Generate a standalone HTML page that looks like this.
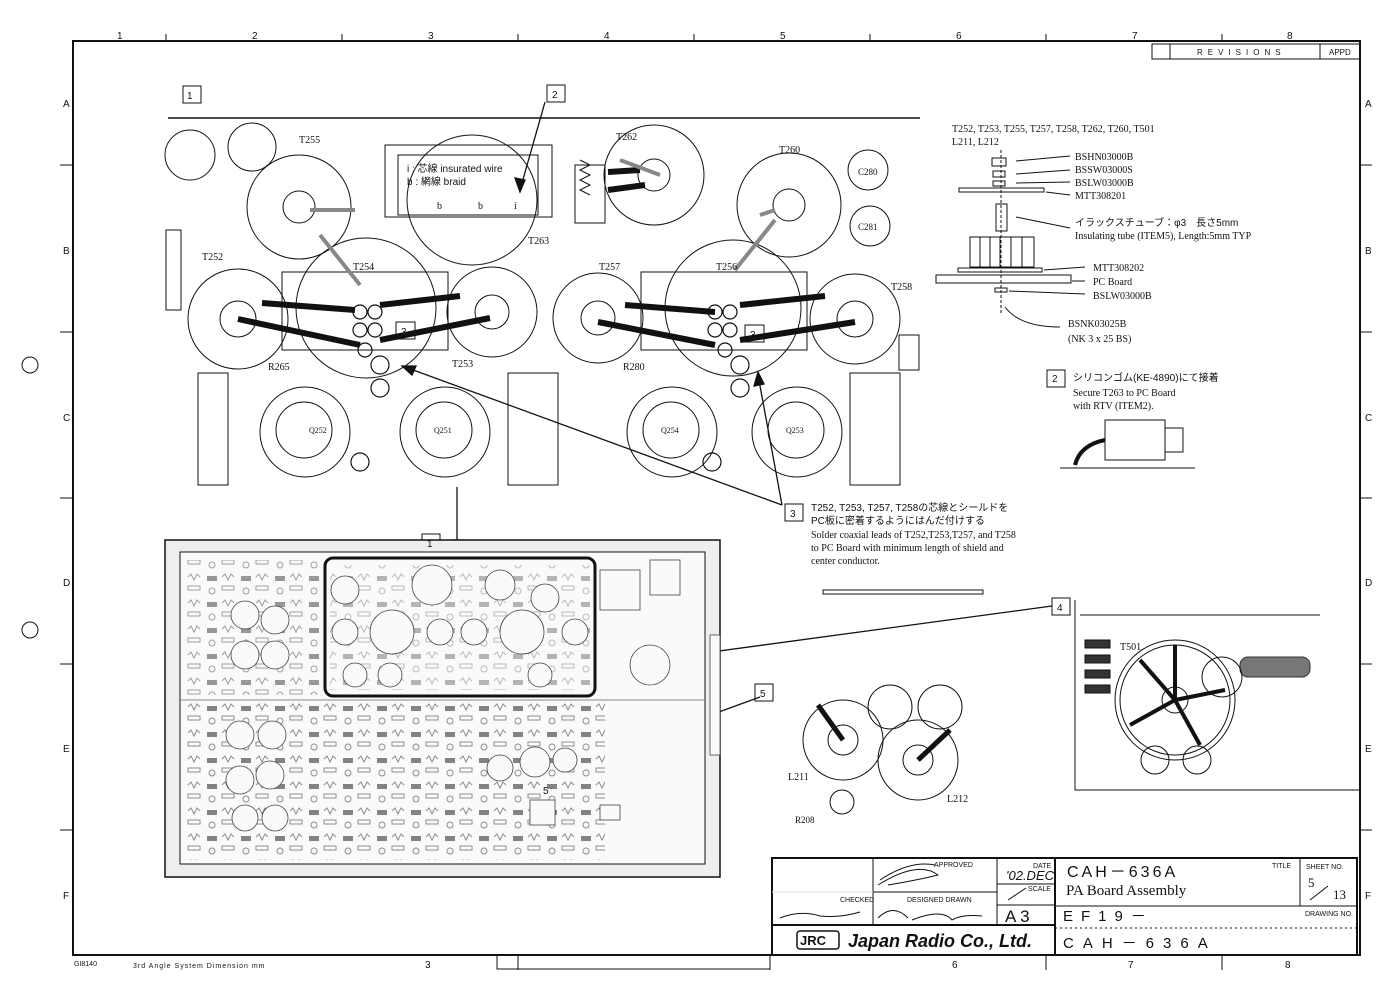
<!DOCTYPE html>
<html><head><meta charset="utf-8"><style>
html,body{margin:0;padding:0;background:#fff}
svg{display:block}
text{font-family:"Liberation Serif","Noto Serif CJK SC",serif;fill:#111}
.s text,text.s{font-family:"Liberation Sans","Noto Sans CJK JP",sans-serif}
</style></head><body>
<svg width="1400" height="988" viewBox="0 0 1400 988" xmlns="http://www.w3.org/2000/svg">
<defs>
<pattern id="cmp" width="34" height="26" patternUnits="userSpaceOnUse">
<rect x="3" y="4" width="10" height="5" fill="#333"/>
<rect x="18" y="14" width="12" height="4" fill="none" stroke="#444" stroke-width="1"/>
<circle cx="8" cy="19" r="3" fill="none" stroke="#444"/>
<path d="M18 5 l3 -3 l3 6 l3 -6 l3 3" fill="none" stroke="#444"/>
</pattern>
</defs>
<g stroke="#111" fill="none">
<rect x="73" y="41" width="1287" height="914" stroke-width="2"/>
<g stroke-width="1">
<line x1="166" y1="34" x2="166" y2="41"/><line x1="342" y1="34" x2="342" y2="41"/><line x1="518" y1="34" x2="518" y2="41"/><line x1="694" y1="34" x2="694" y2="41"/><line x1="870" y1="34" x2="870" y2="41"/><line x1="1046" y1="34" x2="1046" y2="41"/><line x1="1222" y1="34" x2="1222" y2="41"/>
<line x1="60" y1="165" x2="73" y2="165"/><line x1="60" y1="332" x2="73" y2="332"/><line x1="60" y1="498" x2="73" y2="498"/><line x1="60" y1="664" x2="73" y2="664"/><line x1="60" y1="830" x2="73" y2="830"/>
<line x1="1360" y1="165" x2="1372" y2="165"/><line x1="1360" y1="332" x2="1372" y2="332"/><line x1="1360" y1="498" x2="1372" y2="498"/><line x1="1360" y1="664" x2="1372" y2="664"/><line x1="1360" y1="830" x2="1372" y2="830"/>
<line x1="518" y1="955" x2="518" y2="970"/><line x1="770" y1="955" x2="770" y2="970"/><line x1="1046" y1="955" x2="1046" y2="970"/><line x1="1222" y1="955" x2="1222" y2="970"/>
<rect x="497" y="955" width="273" height="14"/>
</g>
<circle cx="30" cy="365" r="8"/><circle cx="30" cy="630" r="8"/>
<rect x="1152" y="44" width="208" height="15"/><line x1="1170" y1="44" x2="1170" y2="59"/><line x1="1320" y1="44" x2="1320" y2="59"/>
<rect x="772" y="858" width="585" height="97" stroke-width="2"/>
<line x1="772" y1="925" x2="1055" y2="925" stroke-width="2"/>
<line x1="1055" y1="858" x2="1055" y2="955" stroke-width="2"/>
<line x1="873" y1="858" x2="873" y2="925"/><line x1="997" y1="858" x2="997" y2="925"/>
<line x1="873" y1="892" x2="997" y2="892"/><line x1="772" y1="892" x2="873" y2="892" stroke="#ddd"/>
<line x1="997" y1="884" x2="1055" y2="884"/><line x1="997" y1="905" x2="1055" y2="905"/>
<line x1="1055" y1="906" x2="1357" y2="906"/><line x1="1300" y1="858" x2="1300" y2="906"/>
<line x1="1055" y1="928" x2="1357" y2="928" stroke-dasharray="2 3"/>
<rect x="797" y="931" width="42" height="18" rx="3" stroke-width="1.5"/>
<path d="M878 885 q40 -25 60 -10 q-20 5 -50 10 M880 880 q30 -20 55 -15 M1008 900 l18 -12 M1310 900 l18 -14"/>
<path d="M878 918 q15 -15 30 0 M912 920 q30 -12 40 0 q10 -6 30 -4 M780 918 q20 -8 40 -2 q20 2 40 -4"/>
<!-- top schematic -->
<line x1="168" y1="118" x2="920" y2="118" stroke-width="1.5"/>
<rect x="183" y="86" width="18" height="17"/><rect x="547" y="85" width="18" height="17"/>
<circle cx="190" cy="155" r="25"/><circle cx="252" cy="147" r="24"/>
<circle cx="299" cy="207" r="52"/><circle cx="299" cy="207" r="16"/>
<circle cx="238" cy="319" r="50"/><circle cx="238" cy="319" r="18"/>
<circle cx="366" cy="308" r="70"/>
<circle cx="492" cy="312" r="45"/><circle cx="492" cy="312" r="17"/>
<circle cx="472" cy="200" r="65"/>
<rect x="385" y="145" width="167" height="72"/><rect x="398" y="155" width="140" height="60"/>
<rect x="575" y="165" width="30" height="58"/><path d="M580 160 l10 5 l-10 5 l10 5 l-10 5 l10 5 l-10 5 l10 5" />
<circle cx="654" cy="175" r="50"/><circle cx="654" cy="175" r="16"/>
<circle cx="789" cy="205" r="52"/><circle cx="789" cy="205" r="16"/>
<circle cx="868" cy="170" r="20"/><circle cx="870" cy="226" r="20"/>
<circle cx="598" cy="318" r="45"/><circle cx="598" cy="318" r="17"/>
<circle cx="733" cy="308" r="68"/>
<circle cx="855" cy="319" r="45"/><circle cx="855" cy="319" r="18"/>
<rect x="282" y="272" width="166" height="78"/><rect x="641" y="272" width="166" height="78"/>
<rect x="745" y="325" width="19" height="17"/><rect x="396" y="322" width="19" height="17"/>
<g stroke-width="1.2"><circle cx="360" cy="312" r="7"/><circle cx="375" cy="312" r="7"/><circle cx="360" cy="330" r="7"/><circle cx="375" cy="330" r="7"/><circle cx="380" cy="365" r="9"/><circle cx="365" cy="350" r="7"/>
<circle cx="715" cy="312" r="7"/><circle cx="730" cy="312" r="7"/><circle cx="715" cy="330" r="7"/><circle cx="730" cy="330" r="7"/><circle cx="740" cy="365" r="9"/><circle cx="725" cy="350" r="7"/>
<circle cx="380" cy="388" r="9"/><circle cx="740" cy="388" r="9"/><circle cx="360" cy="462" r="9"/><circle cx="712" cy="462" r="9"/></g>
<circle cx="305" cy="432" r="45"/><circle cx="304" cy="430" r="28"/>
<circle cx="445" cy="432" r="45"/><circle cx="444" cy="430" r="28"/>
<circle cx="672" cy="432" r="45"/><circle cx="671" cy="430" r="28"/>
<circle cx="797" cy="432" r="45"/><circle cx="796" cy="430" r="28"/>
<rect x="508" y="373" width="50" height="112"/><rect x="850" y="373" width="50" height="112"/><rect x="198" y="373" width="30" height="112"/>
<rect x="166" y="230" width="15" height="80"/>
<rect x="899" y="335" width="20" height="35"/>
<g stroke-width="6">
<line x1="238" y1="319" x2="360" y2="345"/><line x1="262" y1="303" x2="355" y2="310"/>
<line x1="380" y1="305" x2="460" y2="296"/><line x1="380" y1="340" x2="490" y2="318"/>
<line x1="598" y1="322" x2="715" y2="345"/><line x1="625" y1="305" x2="715" y2="312"/>
<line x1="740" y1="305" x2="825" y2="296"/><line x1="740" y1="340" x2="855" y2="322"/>
<line x1="608" y1="172" x2="640" y2="170"/><line x1="608" y1="190" x2="645" y2="185"/>
</g>
<g stroke="#888" stroke-width="4"><line x1="310" y1="210" x2="355" y2="210"/><line x1="320" y1="235" x2="360" y2="285"/><line x1="760" y1="215" x2="775" y2="210"/><line x1="735" y1="270" x2="775" y2="220"/><line x1="620" y1="160" x2="660" y2="175"/></g>
<g stroke-width="1.3">
<line x1="545" y1="102" x2="520" y2="190"/><polygon points="520,192 515,178 525,180" fill="#111"/>
<line x1="782" y1="505" x2="405" y2="367"/><polygon points="402,366 416,366 412,375" fill="#111"/>
<line x1="782" y1="505" x2="758" y2="375"/><polygon points="758,372 754,386 764,384" fill="#111"/>
<line x1="457" y1="487" x2="457" y2="550"/><polygon points="457,554 452,540 462,540" fill="#111"/>
<line x1="1052" y1="606" x2="667" y2="658"/><polygon points="662,659 675,653 676,662" fill="#111"/>
<line x1="760" y1="697" x2="565" y2="768"/><polygon points="560,770 572,761 575,770" fill="#111"/>
</g>
<rect x="785" y="504" width="18" height="17"/><rect x="422" y="534" width="18" height="17"/><rect x="1052" y="598" width="18" height="17"/><rect x="755" y="684" width="18" height="17"/><rect x="538" y="781" width="18" height="17"/>
<!-- bottom board -->
<rect x="165" y="540" width="555" height="337" stroke-width="1.5" fill="#eee"/>
<rect x="180" y="552" width="525" height="312" fill="#fafafa"/>
<rect x="185" y="700" width="420" height="160" fill="url(#cmp)" stroke="none" opacity="0.6"/>
<rect x="185" y="560" width="135" height="135" fill="url(#cmp)" stroke="none" opacity="0.5"/>
<rect x="330" y="565" width="260" height="125" fill="url(#cmp)" stroke="none" opacity="0.35"/>
<rect x="325" y="558" width="270" height="138" rx="8" stroke-width="3"/>
<line x1="180" y1="700" x2="705" y2="700" stroke="#888"/>
<g stroke="#444" stroke-width="0.8" fill="#fafafa">
<circle cx="345" cy="590" r="14"/><circle cx="432" cy="585" r="20"/><circle cx="500" cy="585" r="15"/><circle cx="545" cy="598" r="14"/>
<circle cx="345" cy="632" r="13"/><circle cx="392" cy="632" r="22"/><circle cx="440" cy="632" r="13"/><circle cx="474" cy="632" r="13"/><circle cx="522" cy="632" r="22"/><circle cx="575" cy="632" r="13"/>
<circle cx="355" cy="675" r="12"/><circle cx="390" cy="675" r="12"/><circle cx="540" cy="675" r="12"/><circle cx="650" cy="665" r="20"/>
<circle cx="245" cy="615" r="14"/><circle cx="275" cy="620" r="14"/><circle cx="245" cy="655" r="14"/><circle cx="275" cy="655" r="14"/>
<circle cx="240" cy="735" r="14"/><circle cx="272" cy="735" r="14"/><circle cx="240" cy="780" r="14"/><circle cx="270" cy="775" r="14"/><circle cx="245" cy="818" r="13"/><circle cx="275" cy="818" r="13"/>
<circle cx="500" cy="768" r="13"/><circle cx="535" cy="762" r="15"/><circle cx="565" cy="760" r="12"/>
<rect x="710" y="635" width="10" height="120"/><rect x="600" y="570" width="40" height="40"/><rect x="650" y="560" width="30" height="35"/>
<rect x="600" y="805" width="20" height="15"/><rect x="530" y="800" width="25" height="25"/>
</g>
<!-- right assembly -->
<rect x="992" y="158" width="14" height="8"/><rect x="993" y="171" width="12" height="6"/><rect x="993" y="181" width="12" height="5"/>
<rect x="959" y="188" width="85" height="4"/><rect x="996" y="204" width="11" height="27"/>
<rect x="970" y="237" width="64" height="30"/>
<line x1="980" y1="237" x2="980" y2="267"/><line x1="990" y1="237" x2="990" y2="267"/><line x1="1000" y1="237" x2="1000" y2="267"/><line x1="1011" y1="237" x2="1011" y2="267"/><line x1="1022" y1="237" x2="1022" y2="267"/>
<rect x="958" y="268" width="84" height="4"/><rect x="936" y="275" width="135" height="8"/><rect x="995" y="288" width="12" height="4"/>
<line x1="1001" y1="150" x2="1001" y2="315" stroke-dasharray="3 2"/>
<g stroke-width="1"><line x1="1016" y1="161" x2="1070" y2="156"/><line x1="1016" y1="174" x2="1070" y2="170"/><line x1="1016" y1="183" x2="1070" y2="182"/><line x1="1046" y1="192" x2="1070" y2="195"/><line x1="1016" y1="217" x2="1070" y2="228"/><line x1="1044" y1="270" x2="1085" y2="267"/><line x1="1072" y1="281" x2="1085" y2="281"/><line x1="1009" y1="291" x2="1085" y2="294"/><path d="M1060 327 q-40 0 -55 -20"/></g>
<rect x="1047" y="370" width="18" height="17"/>
<rect x="1105" y="420" width="60" height="40"/><rect x="1165" y="428" width="18" height="24"/>
<line x1="1060" y1="468" x2="1195" y2="468"/><path d="M1075 465 q5 -20 30 -25" stroke-width="4"/>
<rect x="823" y="590" width="160" height="4"/>
<circle cx="843" cy="740" r="40"/><circle cx="843" cy="740" r="15"/><line x1="843" y1="740" x2="818" y2="705" stroke-width="5"/>
<circle cx="890" cy="707" r="22"/><circle cx="940" cy="707" r="22"/>
<circle cx="918" cy="760" r="40"/><circle cx="918" cy="760" r="15"/><line x1="918" y1="760" x2="950" y2="730" stroke-width="5"/>
<circle cx="842" cy="802" r="12"/>
<path d="M1075 600 L1075 790 L1360 790 M1080 615 L1320 615"/>
<circle cx="1175" cy="700" r="55"/><circle cx="1175" cy="700" r="60"/><circle cx="1175" cy="700" r="13"/>
<g stroke-width="4"><line x1="1175" y1="700" x2="1175" y2="645"/><line x1="1175" y1="700" x2="1225" y2="690"/><line x1="1175" y1="700" x2="1130" y2="725"/><line x1="1175" y1="700" x2="1200" y2="745"/><line x1="1175" y1="700" x2="1140" y2="660"/></g>
<rect x="1240" y="657" width="70" height="20" fill="#777" stroke="#333" rx="8"/>
<circle cx="1222" cy="677" r="20"/><circle cx="1155" cy="760" r="14"/><circle cx="1197" cy="760" r="14"/>
<rect x="1085" y="640" width="25" height="8" fill="#333"/><rect x="1085" y="655" width="25" height="8" fill="#333"/><rect x="1085" y="670" width="25" height="8" fill="#333"/><rect x="1085" y="685" width="25" height="8" fill="#333"/>
</g>
<g class="s" font-size="10">
<text x="117" y="39">1</text><text x="252" y="39">2</text><text x="428" y="39">3</text><text x="604" y="39">4</text><text x="780" y="39">5</text><text x="956" y="39">6</text><text x="1132" y="39">7</text><text x="1287" y="39">8</text>
<text x="63" y="107">A</text><text x="63" y="254">B</text><text x="63" y="421">C</text><text x="63" y="586">D</text><text x="63" y="752">E</text><text x="63" y="899">F</text>
<text x="1365" y="107">A</text><text x="1365" y="254">B</text><text x="1365" y="421">C</text><text x="1365" y="586">D</text><text x="1365" y="752">E</text><text x="1365" y="899">F</text>
<text x="425" y="968">3</text><text x="952" y="968">6</text><text x="1128" y="968">7</text><text x="1285" y="968">8</text>
<text x="74" y="966" font-size="7">GI8140</text><text x="133" y="968" font-size="7" letter-spacing="1">3rd Angle System  Dimension mm</text>
<text x="1197" y="55" font-size="8" letter-spacing="5">REVISIONS</text><text x="1329" y="55" font-size="8">APPD</text>
<text x="187" y="99">1</text><text x="552" y="98">2</text><text x="401" y="335">3</text><text x="750" y="338">3</text><text x="790" y="517">3</text><text x="427" y="547">1</text><text x="1057" y="611">4</text><text x="760" y="697">5</text><text x="543" y="794">5</text><text x="1052" y="382">2</text>
<text x="934" y="867" font-size="7">APPROVED</text><text x="1033" y="868" font-size="7">DATE</text><text x="1028" y="891" font-size="7">SCALE</text>
<text x="840" y="902" font-size="7">CHECKED</text><text x="907" y="902" font-size="7">DESIGNED DRAWN</text>
<text x="1005" y="922" font-size="17">A 3</text>
<text x="1067" y="877" font-size="16" letter-spacing="3">CAH－636A</text>
<text x="1272" y="868" font-size="7">TITLE</text><text x="1306" y="869" font-size="7">SHEET NO.</text>
<text x="1305" y="916" font-size="7">DRAWING NO.</text>
<text x="1063" y="921" font-size="15" letter-spacing="8">EF19－</text>
<text x="1063" y="948" font-size="15" letter-spacing="9">CAH－636A</text>
<text x="800" y="945" font-size="13" font-weight="bold">JRC</text>
<text x="848" y="947" font-size="18" font-weight="bold" font-style="italic">Japan Radio Co., Ltd.</text>
<text x="1006" y="880" font-size="13" font-style="italic">'02.DEC</text>
<text x="407" y="172">i : 芯線  insurated wire</text><text x="407" y="185">b : 網線  braid</text>
<text x="1075" y="226">イラックスチューブ：φ3　長さ5mm</text>
<text x="1073" y="381">シリコンゴム(KE-4890)にて接着</text>
<text x="811" y="511">T252, T253, T257, T258の芯線とシールドを</text><text x="811" y="524">PC板に密着するようにはんだ付けする</text>
</g>
<text x="1066" y="895" font-size="15">PA Board Assembly</text>
<text x="1308" y="887" font-size="13">5</text><text x="1333" y="899" font-size="13">13</text>
<g font-size="10">
<text x="299" y="143">T255</text><text x="202" y="260">T252</text><text x="353" y="270">T254</text><text x="452" y="367">T253</text><text x="616" y="140">T262</text><text x="779" y="153">T260</text><text x="599" y="270">T257</text><text x="716" y="270">T256</text><text x="891" y="290">T258</text><text x="528" y="244">T263</text>
<text x="268" y="370">R265</text><text x="623" y="370">R280</text>
<text x="437" y="209">b</text><text x="478" y="209">b</text><text x="514" y="209">i</text>
<text x="952" y="132">T252, T253, T255, T257, T258, T262, T260, T501</text><text x="952" y="145">L211, L212</text>
<text x="1075" y="160">BSHN03000B</text><text x="1075" y="173">BSSW03000S</text><text x="1075" y="186">BSLW03000B</text><text x="1075" y="199">MTT308201</text>
<text x="1075" y="239">Insulating tube (ITEM5), Length:5mm TYP</text>
<text x="1093" y="271">MTT308202</text><text x="1093" y="285">PC Board</text><text x="1093" y="299">BSLW03000B</text>
<text x="1068" y="327">BSNK03025B</text><text x="1068" y="342">(NK 3 x 25  BS)</text>
<text x="1073" y="396">Secure T263 to PC Board</text><text x="1073" y="409">with RTV (ITEM2).</text>
<text x="811" y="538">Solder coaxial leads of T252,T253,T257, and T258</text><text x="811" y="551">to PC Board with minimum length of shield and</text><text x="811" y="564">center conductor.</text>
<text x="1120" y="650">T501</text><text x="788" y="780">L211</text><text x="947" y="802">L212</text>
<text x="795" y="823" font-size="9">R208</text><text x="858" y="175" font-size="9">C280</text><text x="858" y="230" font-size="9">C281</text>
<text x="309" y="433" font-size="8">Q252</text><text x="434" y="433" font-size="8">Q251</text><text x="661" y="433" font-size="8">Q254</text><text x="786" y="433" font-size="8">Q253</text>
</g>
</svg>
</body></html>
